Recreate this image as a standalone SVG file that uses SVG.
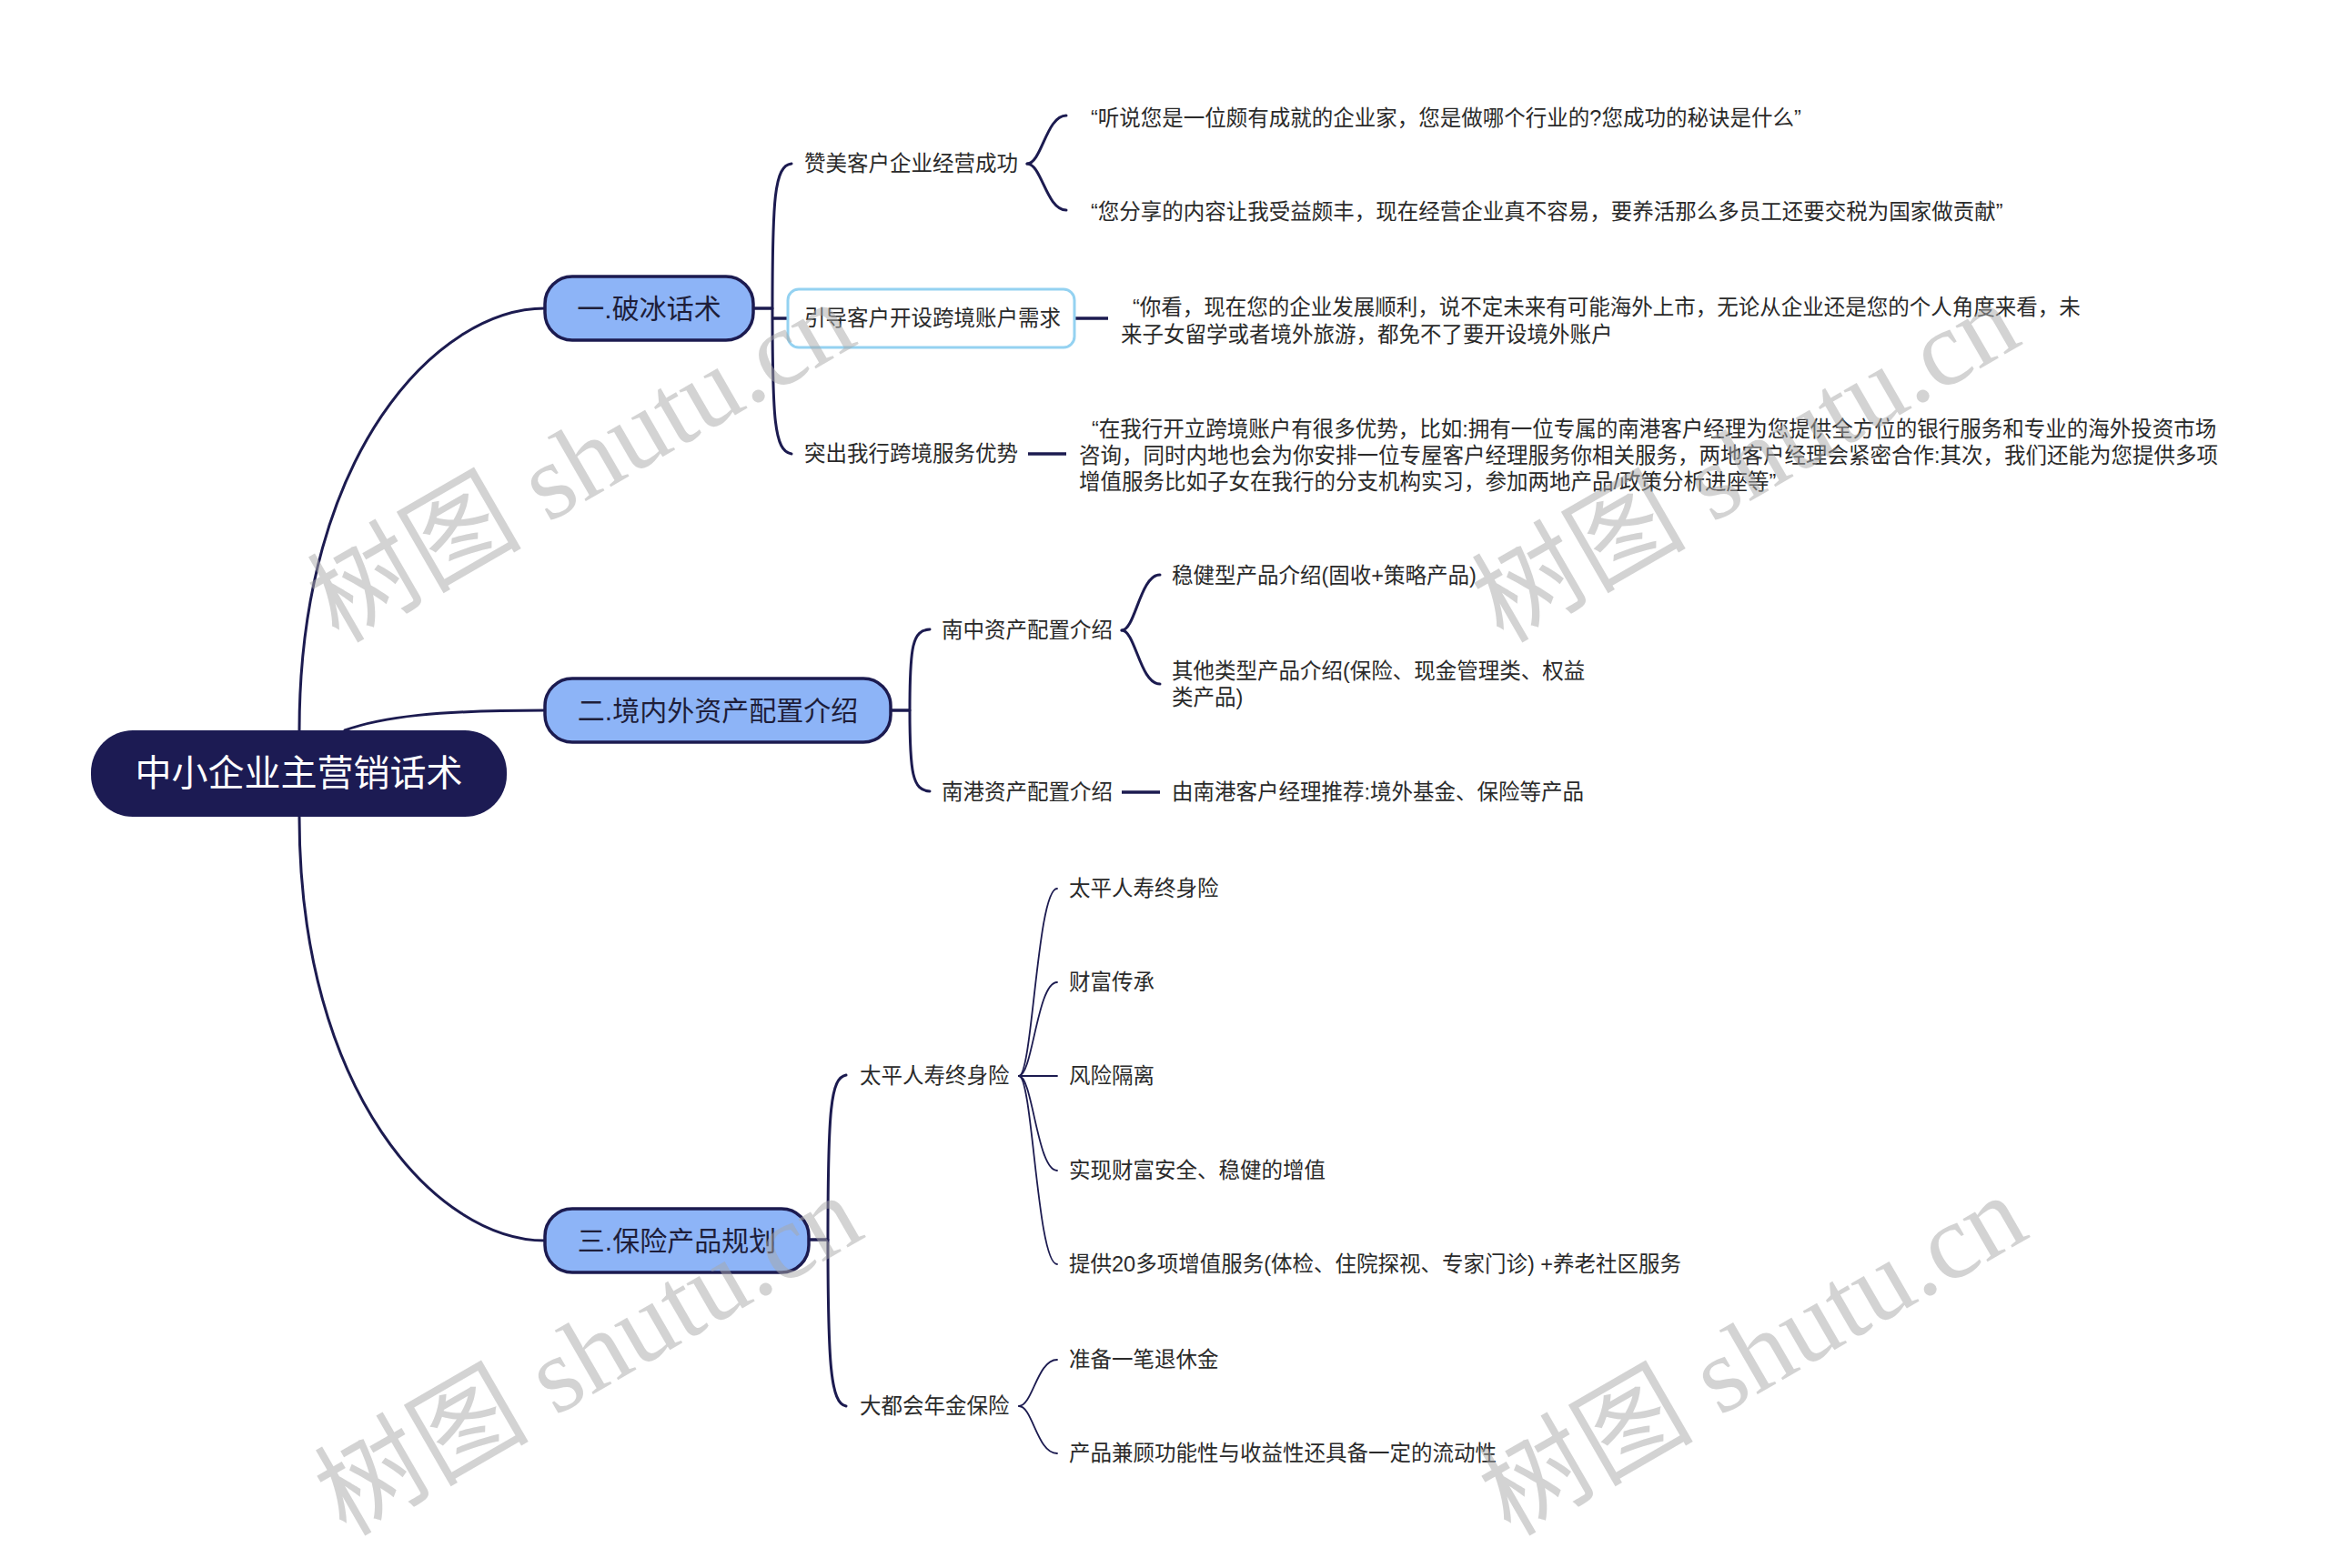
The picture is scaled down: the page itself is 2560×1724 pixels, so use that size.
<svg xmlns="http://www.w3.org/2000/svg" width="2560" height="1724" viewBox="0 0 2560 1724">
<style>
text{font-family:"Liberation Sans","Noto Sans CJK SC",sans-serif;dominant-baseline:central;fill:#2a2a2a}
.root{font-size:40px;fill:#ffffff;text-anchor:middle}
.l1{font-size:30px;text-anchor:middle;fill:#1e1e3a}
.t{font-size:23.5px}
.c{fill:none;stroke:#1c1b50;stroke-width:3;stroke-linecap:round}
.thin{stroke-width:1.8}
.bar{stroke-width:3.5;stroke-linecap:butt}
.n1{fill:#8db4f7;stroke:#1c1b50;stroke-width:3.5}
.wm{font-family:"Liberation Serif","Noto Sans CJK SC",serif;font-size:118px;fill:#a8a8a8;fill-opacity:0.5;dominant-baseline:auto}
</style>
<rect width="2560" height="1724" fill="#ffffff"/>
<g id="connectors">
<path class="c" d="M329,803 C329,500 480,339 599,339"/>
<path class="c" d="M379,803 C420,788 480,781 599,781"/>
<path class="c" d="M329,898 C329,1201 480,1364 599,1364"/>
<path class="c bar" d="M828,339 H850"/>
<path class="c" d="M849,339 C849,220 851,182 870,180"/>
<path class="c" d="M849,339 C849,460 851,496 870,499"/>
<path class="c bar" d="M849,350 H866"/>
<path class="c" d="M1129,180 C1145,180 1150,127 1172,127"/>
<path class="c" d="M1129,180 C1145,180 1150,231 1172,231"/>
<path class="c bar" d="M1182,350 H1218"/>
<path class="c bar" d="M1130,499 H1172"/>
<path class="c bar" d="M979,781 H1001"/>
<path class="c" d="M1000,781 C1000,710 1003,693 1022,692"/>
<path class="c" d="M1000,781 C1000,850 1003,869 1022,870"/>
<path class="c" d="M1233,693 C1248,693 1253,632 1275,632"/>
<path class="c" d="M1233,693 C1248,693 1253,752 1275,752"/>
<path class="c bar" d="M1233,871 H1275"/>
<path class="c bar" d="M889,1363 H911"/>
<path class="c" d="M910,1363 C910,1220 913,1185 930,1182"/>
<path class="c" d="M910,1363 C910,1500 913,1543 930,1546"/>
<path class="c thin" d="M1120,1183 C1135,1183 1140,977 1162,977"/>
<path class="c thin" d="M1120,1183 C1135,1183 1140,1080 1162,1080"/>
<path class="c thin" d="M1120,1183 H1162"/>
<path class="c thin" d="M1120,1183 C1135,1183 1140,1287 1162,1287"/>
<path class="c thin" d="M1120,1183 C1135,1183 1140,1390 1162,1390"/>
<path class="c thin" d="M1120,1546 C1135,1546 1140,1495 1162,1495"/>
<path class="c thin" d="M1120,1546 C1135,1546 1140,1598 1162,1598"/>
</g>
<g id="root">
<rect x="100" y="803" width="457" height="95" rx="46" fill="#1c1b53"/>
<text class="root" x="328.5" y="850">中小企业主营销话术</text>
</g>
<g id="n1"><rect class="n1" x="599" y="304" width="229" height="70" rx="30"/><text class="l1" x="713.5" y="339">一.破冰话术</text></g>
<g id="n2"><rect class="n1" x="599" y="746" width="380" height="70" rx="30"/><text class="l1" x="789" y="781">二.境内外资产配置介绍</text></g>
<g id="n3"><rect class="n1" x="599" y="1329" width="290" height="70" rx="30"/><text class="l1" x="744" y="1364">三.保险产品规划</text></g>
<g id="n1-1"><text class="t" x="884" y="180">赞美客户企业经营成功</text></g>
<g id="n1-1-1"><text class="t" x="1199" y="130">“听说您是一位颇有成就的企业家，您是做哪个行业的?您成功的秘诀是什么”</text></g>
<g id="n1-1-2"><text class="t" x="1199" y="233">“您分享的内容让我受益颇丰，现在经营企业真不容易，要养活那么多员工还要交税为国家做贡献”</text></g>
<g id="n1-2"><rect x="866" y="318" width="315" height="64" rx="12" fill="#ffffff" stroke="#94d2f1" stroke-width="3"/><text class="t" x="884" y="350">引导客户开设跨境账户需求</text></g>
<g id="n1-2-1"><text class="t"><tspan x="1245" y="338">“你看，现在您的企业发展顺利，说不定未来有可能海外上市，无论从企业还是您的个人角度来看，未</tspan><tspan x="1232" y="368">来子女留学或者境外旅游，都免不了要开设境外账户</tspan></text></g>
<g id="n1-3"><text class="t" x="884" y="499">突出我行跨境服务优势</text></g>
<g id="n1-3-1"><text class="t"><tspan x="1200" y="472">“在我行开立跨境账户有很多优势，比如:拥有一位专属的南港客户经理为您提供全方位的银行服务和专业的海外投资市场</tspan><tspan x="1186" y="501">咨询，同时内地也会为你安排一位专屋客户经理服务你相关服务，两地客户经理会紧密合作:其次，我们还能为您提供多项</tspan><tspan x="1186" y="530">增值服务比如子女在我行的分支机构实习，参加两地产品/政策分析进座等”</tspan></text></g>
<g id="n2-1"><text class="t" x="1035" y="693">南中资产配置介绍</text></g>
<g id="n2-1-1"><text class="t" x="1288" y="633">稳健型产品介绍(固收+策略产品)</text></g>
<g id="n2-1-2"><text class="t"><tspan x="1288" y="738">其他类型产品介绍(保险、现金管理类、权益</tspan><tspan x="1288" y="767">类产品)</tspan></text></g>
<g id="n2-2"><text class="t" x="1035" y="871">南港资产配置介绍</text></g>
<g id="n2-2-1"><text class="t" x="1288" y="871">由南港客户经理推荐:境外基金、保险等产品</text></g>
<g id="n3-1"><text class="t" x="945" y="1183">太平人寿终身险</text></g>
<g id="n3-1-1"><text class="t" x="1175" y="977">太平人寿终身险</text></g>
<g id="n3-1-2"><text class="t" x="1175" y="1080">财富传承</text></g>
<g id="n3-1-3"><text class="t" x="1175" y="1183">风险隔离</text></g>
<g id="n3-1-4"><text class="t" x="1175" y="1287">实现财富安全、稳健的增值</text></g>
<g id="n3-1-5"><text class="t" x="1175" y="1390">提供20多项增值服务(体检、住院探视、专家门诊) +养老社区服务</text></g>
<g id="n3-2"><text class="t" x="945" y="1546">大都会年金保险</text></g>
<g id="n3-2-1"><text class="t" x="1175" y="1495">准备一笔退休金</text></g>
<g id="n3-2-2"><text class="t" x="1175" y="1598">产品兼顾功能性与收益性还具备一定的流动性</text></g>
<g id="watermarks">
<text class="wm" x="372" y="708" transform="rotate(-30 372 708)">树图 shutu.cn</text>
<text class="wm" x="1652" y="708" transform="rotate(-30 1652 708)">树图 shutu.cn</text>
<text class="wm" x="380" y="1690" transform="rotate(-30 380 1690)">树图 shutu.cn</text>
<text class="wm" x="1660" y="1690" transform="rotate(-30 1660 1690)">树图 shutu.cn</text>
</g>
</svg>
